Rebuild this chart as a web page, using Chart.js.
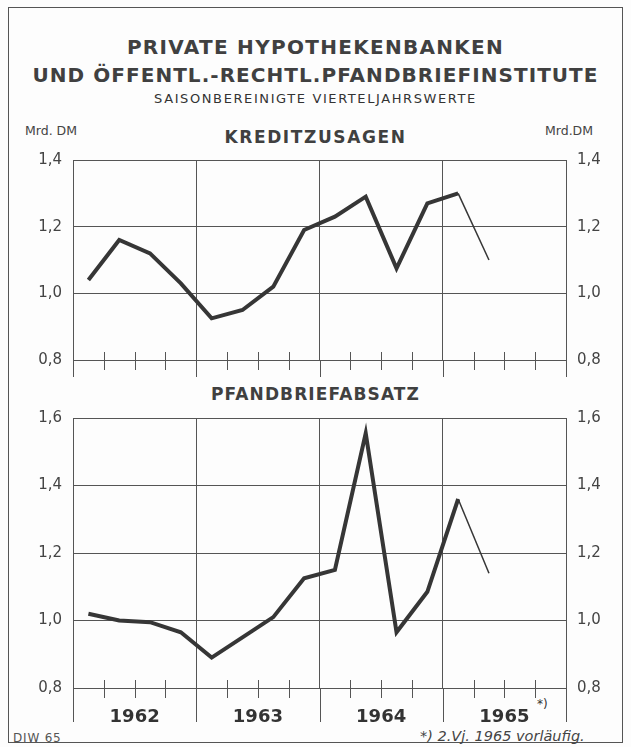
<!DOCTYPE html>
<html>
<head>
<meta charset="utf-8">
<script src="https://cdn.jsdelivr.net/npm/chart.js@4/dist/chart.umd.min.js"></script>
<style>
  body { margin: 0; background: #fdfdfd; }
  #page { position: relative; width: 631px; height: 747px; overflow: hidden; font-family: "DejaVu Sans", sans-serif; color: #333; }
  #frame { position: absolute; left: 8px; top: 7px; width: 615px; height: 736px; border: 1.5px solid #555; border-bottom-width: 1px; box-sizing: border-box; }
  .txt { position: absolute; white-space: nowrap; }
  canvas { position: absolute; left: 0; }
</style>
</head>
<body>
<div id="page">
  <div id="frame"></div>
  <div class="txt" style="left:0;width:631px;text-align:center;top:35px;font-size:20px;font-weight:bold;letter-spacing:1.3px;color:#404040;">PRIVATE HYPOTHEKENBANKEN</div>
  <div class="txt" style="left:0;width:631px;text-align:center;top:63px;font-size:20px;font-weight:bold;letter-spacing:1.05px;color:#404040;">UND ÖFFENTL.-RECHTL.PFANDBRIEFINSTITUTE</div>
  <div class="txt" style="left:0;width:631px;text-align:center;top:91px;font-size:13px;letter-spacing:1.6px;">SAISONBEREINIGTE VIERTELJAHRSWERTE</div>
  <div class="txt" style="left:25px;top:123px;font-size:12.5px;color:#444;">Mrd. DM</div>
  <div class="txt" style="left:545px;top:123px;font-size:12.5px;color:#444;">Mrd.DM</div>
  <div class="txt" style="left:0;width:631px;text-align:center;top:127px;font-size:17px;font-weight:bold;letter-spacing:1.6px;color:#404040;">KREDITZUSAGEN</div>
  <div class="txt" style="left:0;width:631px;text-align:center;top:384px;font-size:17px;font-weight:bold;letter-spacing:1.1px;color:#404040;">PFANDBRIEFABSATZ</div>
  <div class="txt" style="left:537px;top:697px;font-size:12px;">*)</div>
  <div class="txt" style="left:13px;top:731px;font-size:12px;letter-spacing:0.8px;color:#555;">DIW 65</div>
  <div class="txt" style="left:420px;top:728px;font-size:14.5px;font-style:italic;color:#444;">*) 2.Vj. 1965 vorläufig.</div>
  <canvas id="c1" width="631" height="245" style="top:140px"></canvas>
  <canvas id="c2" width="631" height="337" style="top:398px"></canvas>
</div>
<script>
// quarters from 1962 I to 1965 II (last one preliminary)
const quarters = ['1962 I', '1962 II', '1962 III', '1962 IV',
                  '1963 I', '1963 II', '1963 III', '1963 IV',
                  '1964 I', '1964 II', '1964 III', '1964 IV',
                  '1965 I', '1965 II'];
const years = ['1962', '1963', '1964', '1965'];

// Mrd. DM
const kreditzusagen = [1.04, 1.16, 1.12, 1.03, 0.925, 0.95, 1.02, 1.19, 1.23, 1.29, 1.075, 1.27, 1.30, null];
const kreditzusagenVorl = [null, null, null, null, null, null, null, null, null, null, null, null, 1.30, 1.10];
const pfandbriefabsatz = [1.02, 1.00, 0.995, 0.965, 0.89, 0.95, 1.01, 1.125, 1.15, 1.555, 0.965, 1.085, 1.36, null];
const pfandbriefabsatzVorl = [null, null, null, null, null, null, null, null, null, null, null, null, 1.36, 1.14];

const yTicksTop = [0.8, 1.0, 1.2, 1.4];
const yTicksBottom = [0.8, 1.0, 1.2, 1.4, 1.6];

const INK = '#363636';
const GRID = '#555';

function toPoints(values) {
    // point sits in the middle of its quarter
    return values.map((v, i) => ({ x: i + 0.5, y: v }));
}

function fmt(v) {
    return v.toFixed(1).replace('.', ',');
}

// quarter marks across the base line and year lines running below it
const yearMarks = {
    id: 'yearMarks',
    afterDraw(chart, args, opts) {
        const ctx = chart.ctx;
        const x = chart.scales.x;
        const base = chart.chartArea.bottom;
        ctx.save();
        ctx.strokeStyle = GRID;
        ctx.lineWidth = 1;
        for (let q = 0; q <= years.length * 4; q++) {
            const px = Math.round(x.getPixelForValue(q)) + 0.5;
            ctx.beginPath();
            if (q % 4 === 0) {
                ctx.moveTo(px, base);
                ctx.lineTo(px, base + opts.drop);
            } else {
                ctx.moveTo(px, base - 8);
                ctx.lineTo(px, base + 10);
            }
            ctx.stroke();
        }
        ctx.restore();
    }
};

function makeChart(id, main, vorl, yTicks, opt) {
    const yMin = yTicks[0];
    const yMax = yTicks[yTicks.length - 1];
    const tickFont = { family: 'DejaVu Sans', size: 15 };
    const yAxis = (pos, width) => ({
        type: 'linear',
        position: pos,
        min: yMin,
        max: yMax,
        afterBuildTicks: s => { s.ticks = yTicks.map(v => ({ value: v })); },
        afterFit: s => { s.width = width; },
        ticks: { callback: v => fmt(v), color: '#444', font: tickFont, padding: 11 },
        grid: { color: GRID, lineWidth: 1, drawTicks: false, drawOnChartArea: pos === 'left' },
        border: { display: false }
    });

    return new Chart(document.getElementById(id), {
        type: 'line',
        data: {
            datasets: [
                { data: toPoints(main), borderColor: INK, borderWidth: 4, pointRadius: 0, borderJoinStyle: 'miter', tension: 0 },
                { data: toPoints(vorl), borderColor: INK, borderWidth: 1.5, pointRadius: 0, tension: 0 }
            ]
        },
        options: {
            responsive: false,
            animation: false,
            layout: { padding: { top: opt.padTop, left: 0, right: 0, bottom: 0 } },
            plugins: { legend: { display: false }, tooltip: { enabled: false }, yearMarks: { drop: opt.drop } },
            scales: {
                x: {
                    type: 'linear',
                    min: 0,
                    max: years.length * 4,
                    afterBuildTicks: s => {
                        const t = [];
                        for (let q = 0; q <= years.length * 4; q++) t.push({ value: q });
                        s.ticks = t;
                    },
                    afterFit: s => { s.height = opt.axisHeight; },
                    ticks: {
                        display: opt.showYears,
                        autoSkip: false,
                        maxRotation: 0,
                        padding: opt.labelPad,
                        color: '#333',
                        font: { family: 'DejaVu Sans', size: 18, weight: 'bold' },
                        callback: v => (v % 4 === 2 ? years[(v - 2) / 4] : '')
                    },
                    grid: {
                        drawTicks: false,
                        lineWidth: 1,
                        color: c => (c.tick && c.tick.value % 4 === 0 ? GRID : 'rgba(0,0,0,0)')
                    },
                    border: { display: false }
                },
                y: yAxis('left', 73),
                y2: yAxis('right', 65)
            }
        },
        plugins: [yearMarks]
    });
}

makeChart('c1', kreditzusagen, kreditzusagenVorl, yTicksTop,
    { padTop: 14, axisHeight: 25, drop: 17, showYears: false, labelPad: 0 });
makeChart('c2', pfandbriefabsatz, pfandbriefabsatzVorl, yTicksBottom,
    { padTop: 14, axisHeight: 47, drop: 34, showYears: true, labelPad: 19 });
</script>
</body>
</html>
